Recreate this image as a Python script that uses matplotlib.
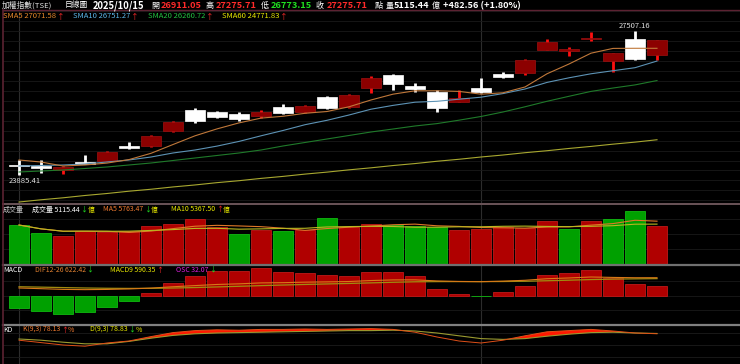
import matplotlib
matplotlib.use("Agg")
import matplotlib.pyplot as plt
from matplotlib.lines import Line2D
import numpy as np
import pandas as pd

plt.rcParams['font.family'] = ['Noto Sans CJK TC', 'DejaVu Sans']

W, H = 740, 364

# ---- daily candles, 2025/09/01 .. 2025/10/15 ----
opens = [24125, 24095, 24005, 24220, 24245, 24615, 24615, 24992, 25520, 25470,
         25420, 25369, 25596, 25470, 25847, 25595, 26073, 26400, 26124, 25972,
         25721, 26073, 26425, 26450, 27029, 27004, 27306, 26752, 27306, 26911.05]
highs = [24263, 24263, 24120, 24388, 24500, 24723, 24890, 25245, 25570, 25495,
         25470, 25520, 25671, 25646, 25872, 25922, 26375, 26425, 26199, 26023,
         26023, 26325, 26476, 26803, 27306, 27104, 27482, 26954, 27507.16, 27275.71]
lows = [23885.41, 23936, 23910, 24150, 24240, 24540, 24590, 24965, 25195, 25318,
        25245, 25318, 25420, 25445, 25545, 25570, 25948, 26023, 25972, 25470,
        25721, 25960, 26325, 26400, 27029, 26878, 27255, 26476, 26778, 26773.15]
closes = [24120, 24070, 24090, 24155, 24471, 24552, 24866, 25218, 25243, 25344,
          25306, 25470, 25445, 25621, 25570, 25897, 26325, 26174, 26048, 25570,
          25822, 25972, 26350, 26778, 27230, 27054, 27331, 26954, 26793.15, 27275.71]

sma5 = [24263, 24212, 24112, 24137, 24185, 24273, 24431, 24652, 24871, 25045,
        25196, 25316, 25362, 25437, 25482, 25601, 25772, 25918, 26003, 26003,
        25988, 25918, 25953, 26099, 26431, 26677, 26949, 27069, 27072, 27071.58]
sma10 = [24112, 24124, 24137, 24162, 24212, 24263, 24338, 24439, 24514, 24612,
         24730, 24871, 25005, 25150, 25261, 25394, 25540, 25636, 25716, 25739,
         25792, 25842, 25933, 26048, 26214, 26330, 26431, 26508, 26584, 26751.27]
sma20 = [23961, 23986, 24011, 24049, 24087, 24137, 24187, 24250, 24313, 24376,
         24439, 24514, 24615, 24703, 24791, 24879, 24967, 25042, 25118, 25178,
         25264, 25357, 25470, 25601, 25739, 25865, 25988, 26073, 26151, 26260.72]
sma60 = [23206, 23262, 23312, 23370, 23420, 23478, 23527, 23585, 23635, 23693,
         23742, 23800, 23850, 23908, 23958, 24015, 24066, 24123, 24173, 24231,
         24281, 24338, 24388, 24446, 24496, 24553, 24604, 24661, 24712, 24771.83]

# volume (億) and colour vs previous close (1 = up)
volumes = [5250, 4213, 3769, 4442, 4348, 4482, 5115, 5425, 6057, 4940,
           4079, 4617, 4401, 4617, 6151, 4980, 5425, 5209, 5075, 5021,
           4570, 4680, 5030, 4850, 5730, 4711, 5828, 6083, 7080, 5115.44]
vol_up = [0, 0, 1, 1, 1, 1, 1, 1, 1, 1, 0, 1, 0, 1, 0, 1, 1, 0, 0, 0,
          1, 1, 1, 1, 1, 0, 1, 0, 0, 1]

# MACD
osc = [-43.5, -53.8, -63.0, -57.3, -40.0, -18.3, 9.2, 44.7, 67.6, 85.9,
       85.9, 95.0, 82.4, 80.2, 72.1, 67.6, 81.3, 82.4, 67.6, 24.0,
       4.6, -2.3, 12.6, 34.4, 71.0, 77.9, 89.3, 59.5, 38.9, 32.07]
dif = [264.0, 240.2, 215.3, 206.7, 214.0, 231.1, 260.9, 307.6, 347.4, 387.2,
       408.7, 441.5, 449.5, 467.4, 477.3, 489.7, 523.7, 545.4, 547.5, 509.9,
       491.7, 484.2, 502.2, 532.6, 587.0, 613.4, 647.1, 632.2, 621.3, 622.42]
macd9 = [307.5, 294.0, 278.3, 264.0, 254.0, 249.4, 251.7, 262.9, 279.8, 301.3,
         322.8, 346.5, 367.1, 387.2, 405.2, 422.1, 442.4, 463.0, 479.9, 485.9,
         487.1, 486.5, 489.6, 498.2, 516.0, 535.5, 557.8, 572.7, 582.4, 590.35]

# KD
k_vals = [62, 56, 50, 47, 55, 60, 71, 81, 86, 88, 87, 89, 89, 90, 89, 90, 91, 89, 82, 70,
          60, 55, 62, 73, 83, 86, 89, 85, 80, 78.13]
d_vals = [65, 62, 57, 53, 53, 59, 67, 74, 78, 80, 81, 82, 83, 84, 85, 86, 86, 87, 85, 80,
          73, 66, 64, 66, 72, 77, 81, 82, 80, 78.83]

month_starts = [0, 21]

RED = '#b00000'
GREEN = '#00a000'

x = np.arange(len(closes))
fig = plt.figure(figsize=(W / 100, H / 100), dpi=100, facecolor='black')


def panel(top, bottom):
    ax = fig.add_axes([3 / W, 1 - bottom / H, (W - 3) / W, (bottom - top) / H])
    ax.set_facecolor('black')
    ax.set_xlim(-16 / 22, 721 / 22)
    ax.set_xticks([])
    ax.set_yticks([])
    for s in ax.spines.values():
        s.set_visible(False)
    for m in month_starts:
        ax.axvline(m, color='#2c2c2c', lw=0.8, zorder=0)
    return ax


# ---------------- main price panel ----------------
ax = panel(10, 204)
ax.set_ylim(23156, 28035)
for g in np.arange(23250, 28035, 250):
    ax.axhline(g, color='#1a1a1a', lw=0.6, zorder=0)

for i in x:
    o, h, l, c = opens[i], highs[i], lows[i], closes[i]
    up = c > o
    body = '#8c0000' if up else 'white'
    wick = '#ff1010' if up else 'white'
    ax.vlines(i, l, h, color=wick, lw=2.0, zorder=2)
    ht = max(abs(c - o), 45)
    mid = (o + c) / 2
    ax.bar(i, ht, bottom=mid - ht / 2, width=0.92, color=body,
           edgecolor='#a01010' if up else 'white', lw=0.5, zorder=3)

ax.plot(x, sma60, color='#a8a830', lw=0.8, zorder=4)
ax.plot(x, sma20, color='#1f7a2a', lw=0.8, zorder=4)
ax.plot(x, sma10, color='#5d93b5', lw=0.8, zorder=4)
ax.plot(x, sma5, color='#c0783a', lw=0.8, zorder=4)

ax.annotate(f'{lows[0]:.2f}', xy=(0, lows[0]), xytext=(4.5, -4), textcoords='offset points',
            ha='center', va='center', color='#e0e0e0', fontsize=5.5)
imax = int(np.argmax(highs))
ax.annotate(f'{highs[imax]:.2f}', xy=(imax, highs[imax]), xytext=(0, 0.5), textcoords='offset points',
            ha='center', va='bottom', color='#e0e0e0', fontsize=5.5)

# ---------------- volume panel ----------------
av = panel(205, 264)
av.set_ylim(0, 7941)
for g in (2000, 4000, 6000):
    av.axhline(g, color='#1a1a1a', lw=0.6, zorder=0)
vcol = [RED if u else GREEN for u in vol_up]
vedge = ['#c01818' if u else '#10b810' for u in vol_up]
av.bar(x, volumes, width=0.95, color=vcol, edgecolor=vedge, lw=0.6, zorder=2)
vs = pd.Series(volumes)
av.plot(x, vs.rolling(5, min_periods=1).mean(), color='#e07828', lw=0.8, zorder=3)
av.plot(x, vs.rolling(10, min_periods=1).mean(), color='#b8b820', lw=0.8, zorder=3)

# ---------------- MACD panel ----------------
am = panel(266, 324)
am.set_ylim(-99, 103)
for g in (-50, 0, 50):
    am.axhline(g, color='#1a1a1a', lw=0.6, zorder=0)
mcol = [RED if v >= 0 else GREEN for v in osc]
medge = ['#c01818' if v >= 0 else '#10b810' for v in osc]
am.bar(x, osc, width=0.95, color=mcol, edgecolor=medge, lw=0.6, zorder=2)
am2 = am.twinx()
am2.set_ylim(-990, 1030)
am2.set_yticks([])
for s in am2.spines.values():
    s.set_visible(False)
am2.plot(x, macd9, color='#a08c10', lw=0.9, zorder=3)
am2.plot(x, dif, color='#d87818', lw=0.8, zorder=4)

# ---------------- KD panel ----------------
ak = panel(325, 364)
ak.set_ylim(2.5, 100)
for g in (20, 50, 80):
    ak.axhline(g, color='#1c1c1c', lw=0.6, zorder=0)
k_arr = np.array(k_vals)
d_arr = np.array(d_vals)
ak.fill_between(x, k_arr, d_arr, where=k_arr >= d_arr, interpolate=True,
                color='#ff1800', lw=0, zorder=2)
ak.plot(x, d_arr, color='#9a9a30', lw=0.8, zorder=3)
ak.plot(x, k_arr, color='#e05018', lw=0.7, zorder=3)

# ---------------- separators ----------------
def hline(y, color, lw):
    fig.add_artist(Line2D([3 / W, 1], [1 - y / H, 1 - y / H], color=color, lw=lw))

hline(10, '#5c2232', 1.0)
hline(204, '#6a5458', 1.4)
hline(265, '#707070', 1.6)
hline(324.5, '#808080', 1.6)
fig.add_artist(Line2D([3 / W, 3 / W], [0, 1 - 10 / H], color='#5c2232', lw=1.2))

# ---------------- texts ----------------
renderer = fig.canvas.get_renderer()


def row(x0, y, parts, size):
    xp = x0
    for s, col, wt in parts:
        t = fig.text(xp / W, 1 - y / H, s, color=col, fontsize=size, fontweight=wt,
                     ha='left', va='center')
        xp = t.get_window_extent(renderer=renderer).x1 + 0.5


def put(x0, y, s, col, size, wt='normal'):
    fig.text(x0 / W, 1 - y / H, s, color=col, fontsize=size, fontweight=wt,
             ha='left', va='center')


WH = 'white'
UPC = '#ff2a2a'
DNC = '#20e020'
ORG = '#f07a30'
YEL = '#e8e800'

hy = 5.5
put(2, hy, '加權指數(TSE)', '#e0e0e0', 5.6)
put(65, hy, '日線圖', WH, 5.6)
put(93, hy, '2025/10/15', WH, 6.8, 'bold')
put(151, hy, '開', WH, 5.8)
put(161, hy, f'{opens[-1]:.2f}', UPC, 6.6, 'bold')
put(206, hy, '高', WH, 5.8)
put(216, hy, f'{highs[-1]:.2f}', UPC, 6.6, 'bold')
put(261, hy, '低', WH, 5.8)
put(271, hy, f'{lows[-1]:.2f}', DNC, 6.6, 'bold')
put(316, hy, '收', WH, 5.8)
put(327, hy, f'{closes[-1]:.2f}', UPC, 6.6, 'bold')
put(375, hy, '點', WH, 5.8)
put(386, hy, '量', WH, 5.8)
put(394, hy, f'{volumes[-1]:.2f}', WH, 6.6, 'bold')
put(432, hy, '億', WH, 5.8)
put(443, hy, '+482.56 (+1.80%)', WH, 6.6, 'bold')

sy = 16.5
row(3, sy, [(f'SMA5 {sma5[-1]:.2f}', '#e8892a', 'normal'), ('↑', UPC, 'normal')], 5.5)
row(73, sy, [(f'SMA10 {sma10[-1]:.2f}', '#5ab4e6', 'normal'), ('↑', UPC, 'normal')], 5.5)
row(148, sy, [(f'SMA20 {sma20[-1]:.2f}', '#22c040', 'normal'), ('↑', UPC, 'normal')], 5.5)
row(222, sy, [(f'SMA60 {sma60[-1]:.2f}', YEL, 'normal'), ('↑', UPC, 'normal')], 5.5)

vy = 209.5
row(3, vy, [('成交量', '#c8c8c8', 'normal')], 5)
row(32, vy, [(f'成交量 {volumes[-1]:.2f}', WH, 'normal'), ('↓', DNC, 'normal'), ('億', YEL, 'normal')], 5)
row(103, vy, [('MA5 5763.47', ORG, 'normal'), ('↓', DNC, 'normal'), ('億', YEL, 'normal')], 5)
row(171, vy, [('MA10 5367.50', YEL, 'normal'), ('↑', UPC, 'normal'), ('億', YEL, 'normal')], 5)

my = 270
row(3, my, [('MACD', WH, 'normal')], 5)
row(35, my, [(f'DIF12-26 {dif[-1]:.2f}', '#e08030', 'normal'), ('↓', DNC, 'normal')], 5)
row(110, my, [(f'MACD9 {macd9[-1]:.2f}', YEL, 'normal'), ('↑', UPC, 'normal')], 5)
row(176, my, [(f'OSC {osc[-1]:.2f}', '#e020e0', 'normal'), ('↓', DNC, 'normal')], 5)

ky = 330
row(3, ky, [('KD', WH, 'normal')], 5)
row(23, ky, [(f'K(9,3) {k_vals[-1]:.2f}', ORG, 'normal'), ('↑', UPC, 'normal'), ('%', ORG, 'normal')], 5)
row(90, ky, [(f'D(9,3) {d_vals[-1]:.2f}', YEL, 'normal'), ('↓', DNC, 'normal'), ('%', YEL, 'normal')], 5)

fig.savefig('out.png', dpi=100, facecolor='black')
